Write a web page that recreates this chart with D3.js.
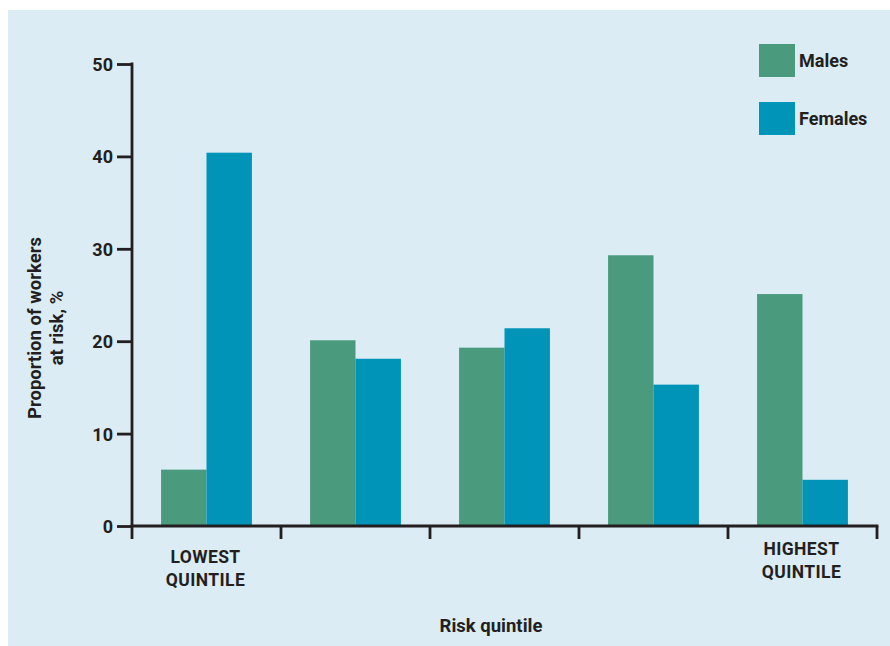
<!DOCTYPE html>
<html>
<head>
<meta charset="utf-8">
<script src="https://cdn.jsdelivr.net/npm/d3@7"></script>
<style>
  html, body { margin: 0; padding: 0; background: #ffffff; }
  svg { display: block; }
  text { font-family: Roboto, "Liberation Sans", sans-serif; font-weight: 700; fill: #231f20; }
</style>
</head>
<body>
<svg id="chart" width="890" height="646"></svg>
<script>
const categories = ["Q1", "Q2", "Q3", "Q4", "Q5"];
const categoryLabels = [["LOWEST", "QUINTILE"], [], [], [], ["HIGHEST", "QUINTILE"]];
const seriesNames = ["Males", "Females"];
const males = [6.1, 20.1, 19.3, 29.3, 25.1];
const females = [40.4, 18.1, 21.4, 15.3, 5.0];
const yTicks = [0, 10, 20, 30, 40, 50];
const colors = ["#4a9a7e", "#0094b9"];

const svg = d3.select("#chart");
const ink = "#231f20";

svg.append("rect").attr("x", 8).attr("y", 10).attr("width", 882).attr("height", 636).attr("fill", "#dbecf4");

const x0 = d3.scaleBand().domain(categories).range([132, 877]).paddingInner(0).paddingOuter(0);
const x1 = d3.scaleBand().domain(seriesNames).range([0, x0.bandwidth()]).paddingInner(0).paddingOuter(0.64);
const y = d3.scaleLinear().domain([0, 50]).range([526, 64]);
const color = d3.scaleOrdinal().domain(seriesNames).range(colors);

const rows = categories.map((c, i) => ({ cat: c, values: [{ s: "Males", v: males[i] }, { s: "Females", v: females[i] }] }));

const g = svg.append("g");
g.selectAll("g.grp").data(rows).join("g").attr("class", "grp")
  .attr("transform", d => `translate(${x0(d.cat)},0)`)
  .selectAll("rect").data(d => d.values).join("rect")
  .attr("x", d => x1(d.s))
  .attr("width", x1.bandwidth())
  .attr("y", d => y(d.v))
  .attr("height", d => y(0) - y(d.v))
  .attr("fill", d => color(d.s));

// y axis
const yAxis = d3.axisLeft(y).tickValues(yTicks).tickSize(15).tickPadding(4).tickFormat(d3.format("d"));
const ya = svg.append("g").attr("transform", "translate(132,0)").call(yAxis);
ya.select(".domain").remove();
ya.append("line").attr("x1", 0).attr("x2", 0).attr("y1", y(50) - 1.4).attr("y2", y(0)).attr("stroke", ink).attr("stroke-width", 2.8);
ya.selectAll(".tick line").attr("stroke", ink).attr("stroke-width", 2.8);
ya.selectAll(".tick text").attr("font-size", 18).attr("fill", ink).attr("dy", "0.36em").style("font-family", "Roboto").style("font-weight", 700);

// x axis: ticks at band boundaries
const boundaries = categories.map(c => x0(c)).concat([x0(categories[categories.length - 1]) + x0.step()]);
const xa = svg.append("g");
xa.append("line").attr("x1", 132 - 1.4).attr("x2", boundaries[boundaries.length - 1] + 1.4)
  .attr("y1", y(0)).attr("y2", y(0)).attr("stroke", ink).attr("stroke-width", 2.8);
xa.selectAll("line.tk").data(boundaries).join("line").attr("class", "tk")
  .attr("x1", d => d).attr("x2", d => d).attr("y1", y(0)).attr("y2", y(0) + 13)
  .attr("stroke", ink).attr("stroke-width", 2.8);

// category labels
const labelY = [563, null, null, null, 555];
categories.forEach((c, i) => {
  const lines = categoryLabels[i];
  if (!lines.length) return;
  const cx = x0(c) + x0.bandwidth() / 2 - 1;
  const t = svg.append("text").attr("text-anchor", "middle").attr("font-size", 17.5).attr("letter-spacing", 0.4);
  lines.forEach((ln, j) => {
    t.append("tspan").attr("x", cx).attr("y", labelY[i] + j * 22.5).text(ln);
  });
});

// axis titles
svg.append("text").attr("x", 491).attr("y", 632).attr("text-anchor", "middle").attr("font-size", 18.5).text("Risk quintile");
const yt = svg.append("text").attr("transform", "translate(0,328) rotate(-90)").attr("text-anchor", "middle").attr("font-size", 18.5);
yt.append("tspan").attr("x", 0).attr("y", 41).text("Proportion of workers");
yt.append("tspan").attr("x", 0).attr("y", 63).text("at risk, %");

// legend
const lg = svg.append("g").selectAll("g").data(seriesNames).join("g")
  .attr("transform", (d, i) => `translate(759,${44 + i * 58})`);
lg.append("rect").attr("width", 36).attr("height", 33).attr("fill", d => color(d));
lg.append("text").attr("x", 40).attr("y", 23).attr("font-size", 18).text(d => d);
</script>
</body>
</html>
